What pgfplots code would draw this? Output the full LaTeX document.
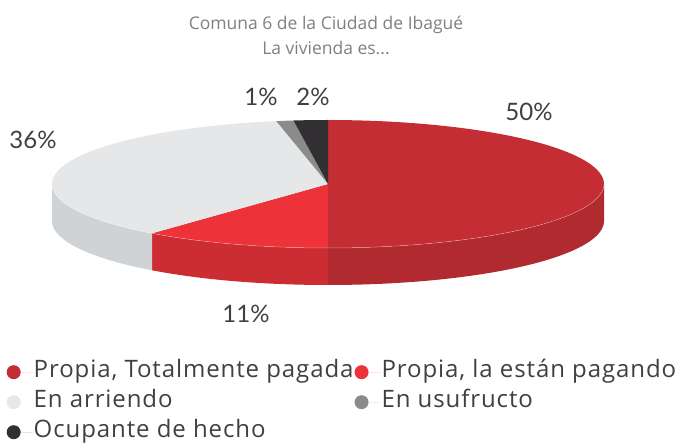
\documentclass[border=0pt]{standalone}
\usepackage{fontspec}
\setmainfont{Lato}
\newfontfamily\legfont[LetterSpace=3.8]{Open Sans}
\newfontfamily\ttlfont{Open Sans}
\usepackage{pgfplots}
\pgfplotsset{compat=1.18}
\definecolor{rA}{RGB}{196,45,52}
\definecolor{rAs}{RGB}{176,42,48}
\definecolor{rB}{RGB}{237,50,57}
\definecolor{rBs}{RGB}{204,45,51}
\definecolor{gA}{RGB}{230,231,232}
\definecolor{gAs}{RGB}{208,211,214}
\definecolor{gB}{RGB}{138,140,140}
\definecolor{dK}{RGB}{51,48,52}
\definecolor{txt}{RGB}{64,64,64}
\definecolor{ttl}{RGB}{128,128,128}
% pie: centre (328,258), radii 276 x 64, depth 37 (picture units = pt)
% shares (%): 50, 11, 36, 1, 2 -> angles clockwise from 90 deg
\newcommand\sidewall[3]{%
\addplot[fill=#1, draw=none, domain=0:2, samples=121, forget plot]
 ({328+276*cos(x<1.008 ? (#2)+((#3)-(#2))*min(x,1) : (#3)-((#3)-(#2))*max(x-1.0166,0)/0.9834)},
  {258+64*sin(x<1.008 ? (#2)+((#3)-(#2))*min(x,1) : (#3)-((#3)-(#2))*max(x-1.0166,0)/0.9834) - 37*(x>1.008)});}
\newcommand\topsector[3]{%
\addplot[fill=#1, draw=none, domain=#2:#3, samples=90]
 ({328+276*cos(x)},{258+64*sin(x)}) -- (axis cs:328,258) -- cycle;}
\begin{document}
\begin{tikzpicture}
\begin{axis}[
 width=681pt, height=442pt, scale only axis,
 xmin=0, xmax=681, ymin=0, ymax=442,
 hide axis, clip=false,
 legend columns=2,
 legend cell align=left,
 legend style={draw=none, fill=none, at={(axis cs:6.5,85)}, anchor=north west,
   font=\legfont\fontsize{24}{27}\selectfont, text=txt,
   nodes={inner xsep=1pt, inner ysep=3pt, text height=17pt, text depth=7pt},
   /tikz/every even column/.append style={column sep=0pt},
   row sep=0pt, inner sep=0pt},
 legend image code/.code={\fill[#1] (7pt,0) circle (7pt); \path (0,0) -- (26pt,0);},
]
\path (rel axis cs:0,0) rectangle (rel axis cs:1,1);
% side walls
\sidewall{rAs}{0}{-90}
\sidewall{rBs}{-90}{-129.6}
\sidewall{gAs}{-129.6}{-180}
% top faces
\topsector{rA}{-90}{90}
\addlegendentry{Propia, Totalmente pagada}
\topsector{rB}{-129.6}{-90}
\addlegendentry{Propia, la están pagando}
\topsector{gA}{-259.2}{-129.6}
\addlegendentry{En arriendo}
\topsector{gB}{-262.8}{-259.2}
\addlegendentry{En usufructo}
\topsector{dK}{-270}{-262.8}
\addlegendentry{Ocupante de hecho}
\addplot[draw=white, opacity=0.4, line width=0.5pt, domain=-180:0, samples=90, forget plot]
 ({328+276*cos(x)},{258+64*sin(x)});
% labels
\node[font=\fontsize{24}{26}\selectfont, text=txt] at (axis cs:529,330) {50\%};
\node[font=\fontsize{24}{26}\selectfont, text=txt] at (axis cs:33,302) {36\%};
\node[font=\fontsize{24}{26}\selectfont, text=txt] at (axis cs:261,345) {1\%};
\node[font=\fontsize{24}{26}\selectfont, text=txt] at (axis cs:313,345) {2\%};
\node[font=\fontsize{24}{26}\selectfont, text=txt] at (axis cs:246,128) {11\%};
\node[font=\ttlfont\fontsize{17.5}{25}\selectfont, text=ttl, align=center] at (axis cs:326,407)
 {Comuna 6 de la Ciudad de Ibagué\\La vivienda es...};
\end{axis}
\end{tikzpicture}
\end{document}
